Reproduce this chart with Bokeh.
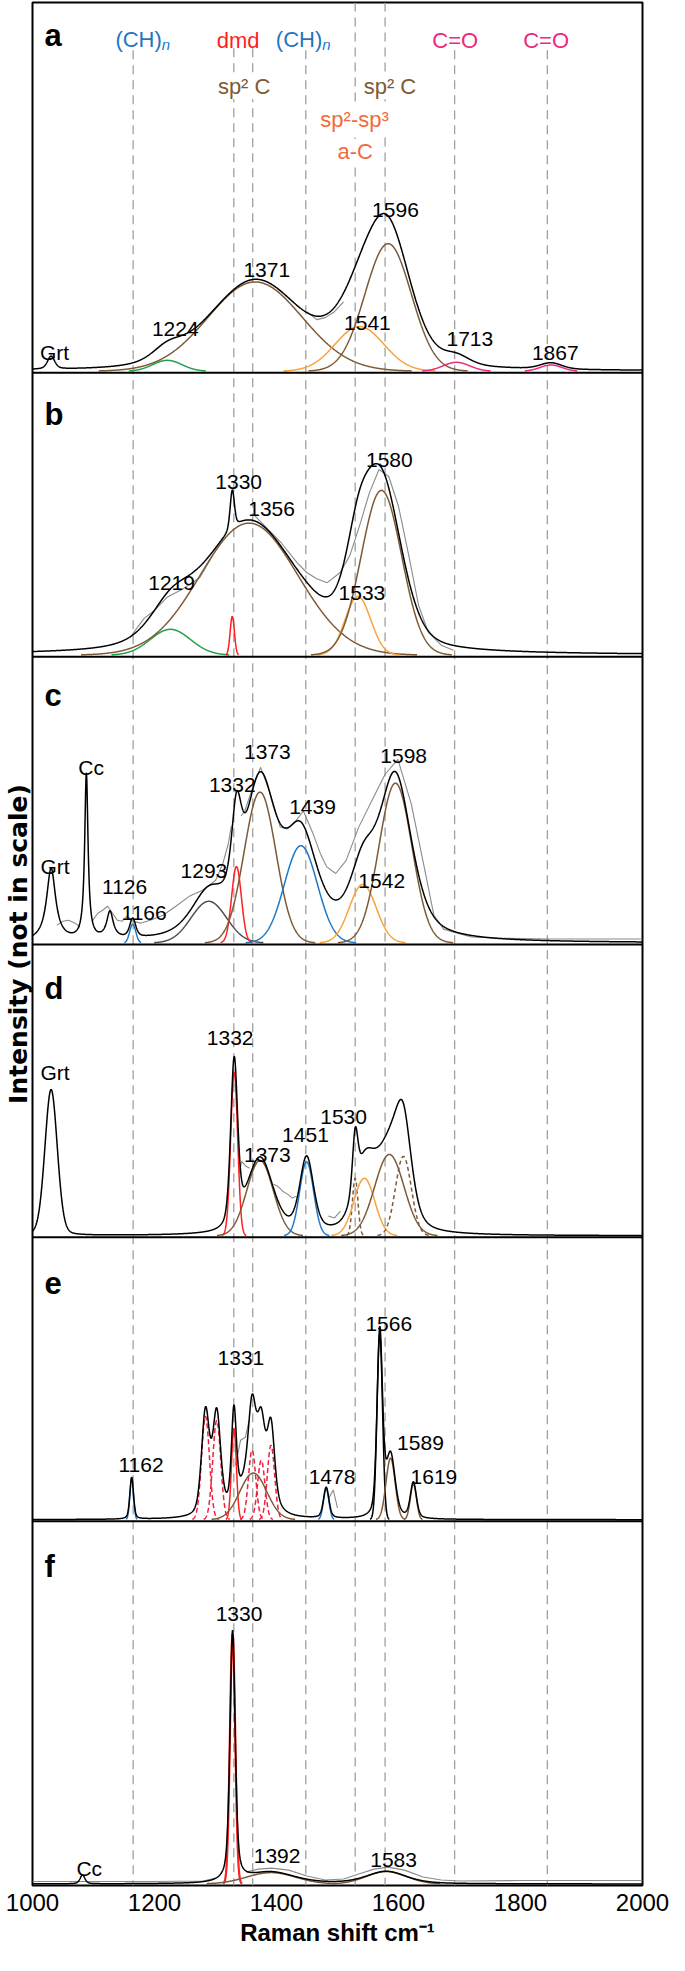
import math
import numpy as np
from bokeh.plotting import figure
from bokeh.models import Range1d, Span, Label, FixedTicker, ColumnDataSource
from bokeh.core.properties import value
from bokeh.embed import file_html
from bokeh.resources import INLINE

# ------------------------------------------------------------------ data
x_ticks = [1000, 1200, 1400, 1600, 1800, 2000]
# band assignment guide positions (cm-1)
guide_x = [1165, 1330, 1361, 1448, 1529, 1578, 1692, 1844]

# fitted components per panel: centre (cm-1), height, sigma (cm-1), lorentz fraction, class
a_center = [1030.5, 1221, 1365, 1536, 1583, 1695, 1850]
a_height = [13, 11, 90, 45, 128.5, 9, 6.3]
a_sigma = [6, 24, 77, 40, 38, 22, 18]
a_eta = [0.5, 0.3, 0.3, 0.3, 0.3, 0.3, 0.3]
a_kind = ["mineral", "green", "sp2", "aC", "sp2", "CO", "CO"]
a_peak_text = ["Grt", "1224", "1371", "1541", "1596", "1713", "1867"]
a_raw_x = [[1450, 1466, 1480, 1495, 1510]]
a_raw_h = [[60, 52, 54, 60, 70]]

b_center = [1226, 1327.5, 1355, 1533.5, 1572]
b_height = [26, 39, 133, 59, 166]
b_sigma = [33, 3.5, 80, 21, 33]
b_eta = [0.35, 0.35, 0.35, 0.35, 0.35]
b_kind = ["green", "dmd", "sp2", "aC", "sp2"]
b_peak_text = ["1219", "1330", "1356", "1533", "1580"]
b_raw_x = [[1160, 1183, 1200, 1220, 1247, 1274, 1295],
           [1365, 1381, 1408, 1434, 1450, 1466, 1483, 1504, 1520, 1536, 1552, 1568,
            1584, 1600, 1617, 1633, 1649, 1670, 1690]]
b_raw_h = [[18, 37, 45, 58, 67, 78, 100],
           [140, 130, 113, 93, 83, 77, 73, 83, 100, 130, 163, 187,
            180, 150, 100, 50, 23, 10, 5]]

c_center = [1030.5, 1088.3, 1127, 1164.3, 1289, 1334.4, 1373, 1440, 1541.4, 1595]
c_height = [73, 167, 27, 19, 42, 77, 152, 98, 59, 161]
c_sigma = [7.6, 2.8, 5.5, 5, 29, 8, 26, 27, 22, 27]
c_eta = [1, 1, 1, 0.55, 0.55, 0.55, 0.55, 0.55, 0.55, 0.55]
c_kind = ["mineral", "mineral", "mineral", "CHn", "gray", "dmd", "sp2", "CHn", "aC", "sp2"]
c_peak_text = ["Grt", "Cc", "1126", "1166", "1293", "1332", "1373", "1439", "1542", "1598"]
c_raw_x = [[1040, 1050, 1059, 1070, 1078],
           [1098, 1107, 1115, 1123, 1131, 1139, 1147, 1155, 1165, 1177, 1193, 1214,
            1235, 1257, 1278, 1300, 1312, 1321, 1326],
           [1342, 1348, 1360, 1374, 1390, 1406, 1418, 1428, 1444, 1460, 1472, 1482,
            1497, 1514, 1535, 1556, 1578, 1599, 1621, 1642, 1658, 1674, 1695, 1720,
            1760, 1850, 2000]]
c_raw_h = [[18, 22, 23, 20, 16],
           [22, 30, 33, 37, 30, 23, 22, 27, 22, 20, 23, 28,
            37, 47, 53, 63, 80, 100, 118],
           [128, 133, 155, 177, 150, 117, 115, 120, 133, 110, 90, 77,
            70, 83, 117, 143, 170, 185, 140, 77, 28, 14, 10, 6,
            5, 4, 4]]

d_center = [1030.5, 1330.6, 1373, 1449.4, 1529, 1544, 1585, 1608]
d_height = [147, 165, 76, 74.5, 58, 58, 82, 80]
d_sigma = [10.2, 5.7, 21.6, 11.4, 4.5, 17, 24, 13]
d_eta = [0.15, 0.4, 0.4, 0.4, 0.4, 0.4, 0.4, 0.4]
d_kind = ["mineral", "dmd", "sp2", "CHn", "sp2_dash", "aC", "sp2", "sp2_dash"]
d_peak_text = ["Grt", "1332", "1373", "1451", "1530"]
d_raw_x = [[1338, 1343, 1350, 1356],
           [1395, 1402, 1410, 1418, 1426, 1433],
           [1485, 1495, 1505]]
d_raw_h = [[62, 75, 70, 68],
           [52, 50, 45, 42, 38, 40],
           [20, 18, 25]]

e_center = [1162.6, 1283.6, 1302, 1330.2, 1360, 1375, 1391, 1362, 1481.5, 1569.3, 1587, 1624.4]
e_height = [42, 104, 100, 92, 70, 60, 75, 47, 31, 187, 62, 36]
e_sigma = [3, 6.5, 6.5, 4, 6, 6, 6, 22, 4.5, 4.5, 7.5, 5]
e_eta = [0.4, 0.4, 0.4, 0.4, 0.4, 0.4, 0.4, 0.4, 0.4, 0.4, 0.4, 0.4]
e_kind = ["CHn", "dmd_dash", "dmd_dash", "dmd", "dmd_dash", "dmd_dash", "dmd_dash",
          "sp2", "CHn", "black", "sp2", "sp2"]
e_peak_text = ["1162", "1331", "1478", "1566", "1589", "1619"]
e_raw_x = [[1333, 1341, 1349, 1355], [1486, 1493, 1500]]
e_raw_h = [[55, 80, 83, 100], [22, 30, 12]]

f_center = [1082, 1328, 1391, 1580]
f_height = [9, 252, 11.5, 12.5]
f_sigma = [4, 4.3, 40, 33]
f_eta = [0.5, 0.5, 0.5, 0.5]
f_kind = ["mineral", "dmd", "sp2", "sp2"]
f_peak_text = ["Cc", "1330", "1392", "1583"]
f_raw_x = [[1000, 1100, 1200, 1280, 1300],
           [1350, 1370, 1392, 1420, 1450, 1480, 1510, 1540, 1560, 1583, 1610, 1640,
            1670, 1700, 1800, 1900, 2000]]
f_raw_h = [[2.5, 2.5, 2.5, 3, 6],
           [12, 15, 16, 14, 8, 4, 5, 11, 15, 17, 14, 7,
            4, 3, 3.5, 3.5, 3.5]]

# ------------------------------------------------------------------ layout / style
panel_letters = ["a", "b", "c", "d", "e", "f"]
panel_bottom = [375, 661, 951, 1246, 1532, 1899]
letter_y = [35, 417, 700, 995, 1292, 1578]
a_label_pos = [(1036, 355), (1234, 331), (1384, 271), (1549, 325), (1595, 211), (1717, 341), (1857, 355)]
b_label_pos = [(1228, 587), (1338, 485), (1392, 512), (1540, 597), (1585, 463)]
c_label_pos = [(1037, 872), (1096, 773), (1151, 893), (1183, 919), (1281, 877), (1327.5, 790),
               (1385, 757), (1459, 812), (1572.5, 887), (1608.5, 761)]
d_label_pos = [(1037, 1080), (1324, 1045), (1385, 1163), (1447.5, 1143), (1510, 1125)]
e_label_pos = [(1178, 1475), (1341.6, 1368), (1491, 1487), (1584, 1333), (1636, 1453), (1658, 1487)]
f_label_pos = [(1093, 1882), (1338.5, 1625), (1401, 1869), (1592, 1873)]
guide_top = [50, 48, 48, 50, 2, 2, 50, 50]

BROWN = "#7c5a37"
kind_color = {"green": "#22a04b", "sp2": BROWN, "sp2_dash": BROWN, "aC": "#f9a13a",
              "CHn": "#1f77c4", "dmd": "#ff1f1f", "dmd_dash": "#ee2040", "CO": "#ec2a7d",
              "gray": "#4d4d4d", "black": "#000000"}
kind_dash = {"sp2_dash": "4 3", "dmd_dash": "5 3"}
FONT = "Liberation Sans"

panels = [
    (a_center, a_height, a_sigma, a_eta, a_kind, a_peak_text, a_raw_x, a_raw_h, a_label_pos),
    (b_center, b_height, b_sigma, b_eta, b_kind, b_peak_text, b_raw_x, b_raw_h, b_label_pos),
    (c_center, c_height, c_sigma, c_eta, c_kind, c_peak_text, c_raw_x, c_raw_h, c_label_pos),
    (d_center, d_height, d_sigma, d_eta, d_kind, d_peak_text, d_raw_x, d_raw_h, d_label_pos),
    (e_center, e_height, e_sigma, e_eta, e_kind, e_peak_text, e_raw_x, e_raw_h, e_label_pos),
    (f_center, f_height, f_sigma, f_eta, f_kind, f_peak_text, f_raw_x, f_raw_h, f_label_pos),
]

X = np.arange(1000.0, 2000.01, 0.5)


def gauss(x, c, h, s):
    return h * np.exp(-0.5 * ((x - c) / s) ** 2)


def pvoigt(x, c, h, s, eta):
    fwhm = 2.3548 * s
    u = (x - c) / fwhm
    return h * ((1 - eta) * np.exp(-4 * np.log(2) * u ** 2) + eta / (1 + 4 * u ** 2))


p = figure(width=669, height=1955, x_range=Range1d(1000, 2000), y_range=Range1d(1899, 2),
           output_backend="svg", toolbar_location=None, y_axis_location="left",
           min_border_left=28, min_border_right=27, min_border_top=2, min_border_bottom=70)
p.xgrid.visible = False
p.ygrid.visible = False
p.outline_line_color = "black"
p.outline_line_width = 2
p.background_fill_color = "white"
p.border_fill_color = "white"

ax = p.xaxis[0]
ax.ticker = FixedTicker(ticks=x_ticks)
ax.axis_line_color = None
ax.major_tick_line_color = None
ax.minor_tick_line_color = None
ax.major_tick_out = 0
ax.major_tick_in = 0
ax.minor_tick_out = 0
ax.major_label_text_font = FONT
ax.major_label_text_font_size = "24px"
ax.major_label_text_color = "black"
ax.major_label_standoff = 8
ax.axis_label = "Raman shift cm\u207b\u00b9"
ax.axis_label_text_font = FONT
ax.axis_label_text_font_size = "24px"
ax.axis_label_text_font_style = "bold"
ax.axis_label_text_color = "black"
ax.axis_label_standoff = 5

ay = p.yaxis[0]
ay.ticker = FixedTicker(ticks=[])
ay.axis_line_color = None
ay.major_tick_line_color = None
ay.minor_tick_line_color = None
ay.major_tick_out = 0
ay.major_tick_in = 0
ay.minor_tick_out = 0
ay.major_label_standoff = 0
ay.axis_label = "Intensity (not in scale)"
ay.axis_label_text_font = "DejaVu Sans"
ay.axis_label_text_font_size = "25px"
ay.axis_label_text_font_style = "bold"
ay.axis_label_text_color = "black"
ay.axis_label_standoff = 0

# guide lines
p.segment(x0=guide_x, y0=guide_top, x1=guide_x, y1=[1899] * len(guide_x),
          line_color="#a0a0a0", line_width=1.3, line_dash="9 6")

for i, (cen, hei, sig, eta, kind, ptext, rx, rh, lpos) in enumerate(panels):
    base = panel_bottom[i] - 1.5
    # raw spectrum (grey) where it departs from the fit
    p.multi_line(xs=rx, ys=[[base - v for v in seg] for seg in rh],
                 line_color="#8a8a8a", line_width=1.1)
    total = np.zeros_like(X)
    for c, h, s, e, k in zip(cen, hei, sig, eta, kind):
        total += pvoigt(X, c, h, s, e)
    for c, h, s, e, k in zip(cen, hei, sig, eta, kind):
        if k == "mineral":
            continue
        g = gauss(X, c, h, s)
        m = g > 0.35
        lw = 2.2 if (i == 5 and k == "dmd") else 1.5
        p.line(X[m], base - g[m], line_color=kind_color[k], line_width=lw,
               line_dash=kind_dash.get(k, "solid"))
    p.line(X, base - total, line_color="black", line_width=1.5)
    src = ColumnDataSource(dict(x=[q[0] for q in lpos], y=[q[1] for q in lpos], t=ptext))
    p.text(x="x", y="y", text="t", source=src, text_align="center",
           text_baseline="alphabetic", text_font=value(FONT), text_font_size="21px",
           text_color="black")
    p.add_layout(Label(x=1000, y=letter_y[i], x_offset=12, text=panel_letters[i],
                       text_font=FONT, text_font_size="31px", text_font_style="bold",
                       text_align="left", text_baseline="alphabetic", text_color="black"))

for b in panel_bottom[:-1]:
    p.add_layout(Span(location=b, dimension="width", line_color="black", line_width=2))

# band assignment labels
BLUE = kind_color["CHn"]
PINK = kind_color["CO"]
ORANGE_T = "#f26b3a"


def lab(x, y, text, color, size="22px", align="center", style="normal", bg=None):
    kw = dict(x=x, y=y, text=text, text_color=color, text_font=FONT, text_font_size=size,
              text_align=align, text_baseline="alphabetic", text_font_style=style)
    if bg:
        kw["background_fill_color"] = bg
    p.add_layout(Label(**kw))


lab(1212, 39, "(CH)", BLUE, align="right")
lab(1212, 44, "n", BLUE, size="15px", align="left", style="italic")
lab(1475, 39, "(CH)", BLUE, align="right")
lab(1475, 44, "n", BLUE, size="15px", align="left", style="italic")
lab(1337, 40, "dmd", "#ff1f1f")
lab(1693, 40, "C=O", PINK)
lab(1842, 40, "C=O", PINK)
lab(1347, 87, "sp\u00b2 C", BROWN, bg="white")
lab(1586, 87, "sp\u00b2 C", BROWN, bg="white")
lab(1528, 120, "sp\u00b2-sp\u00b3", ORANGE_T, bg="white")
lab(1529, 152, "a-C", ORANGE_T, bg="white")

open("out.html", "w").write(file_html(p, INLINE))
